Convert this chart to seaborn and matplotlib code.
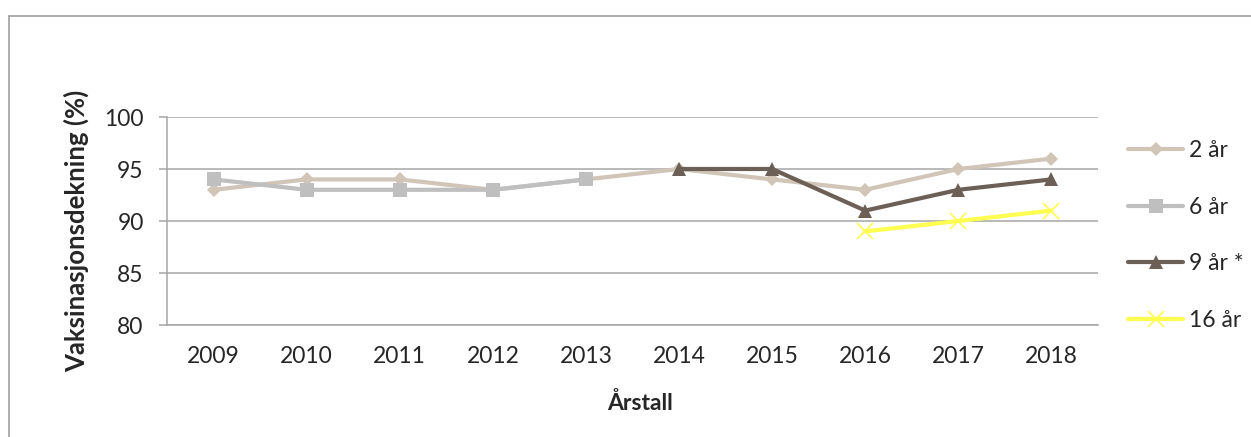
import numpy as np
import pandas as pd
import matplotlib
matplotlib.use("Agg")
import matplotlib.pyplot as plt
from matplotlib.lines import Line2D
import seaborn as sns

years = [2009, 2010, 2011, 2012, 2013, 2014, 2015, 2016, 2017, 2018]
age_2 = [93, 94, 94, 93, 94, 95, 94, 93, 95, 96]
age_6 = [94, 93, 93, 93, 94, np.nan, np.nan, np.nan, np.nan, np.nan]
age_9 = [np.nan, np.nan, np.nan, np.nan, np.nan, 95, 95, 91, 93, 94]
age_16 = [np.nan, np.nan, np.nan, np.nan, np.nan, np.nan, np.nan, 89, 90, 91]
labels = ["2 år", "6 år", "9 år *", "16 år"]
yticks = [80, 85, 90, 95, 100]
ylabel = "Vaksinasjonsdekning (%)"
xlabel = "Årstall"

series = [age_2, age_6, age_9, age_16]
colors = ["#D0C5B7", "#BFBFBF", "#6C5F56", "#FFFF50"]
markers = ["D", "s", "^", "x"]
msizes = [7, 9.5, 9.5, 11]

sns.set_style("white")
plt.rcParams["font.family"] = ["Lato", "DejaVu Sans"]

W, H = 1251, 437
fig = plt.figure(figsize=(W / 100, H / 100), dpi=100)
L, R, T, B = 167, 1098, 117, 325
ax = fig.add_axes([L / W, 1 - B / H, (R - L) / W, (B - T) / H])

grid_c = "#A5A5A5"
for v in yticks:
    ax.axhline(v, color=grid_c, lw=1.1, zorder=0)

for lab, vals, c, m, ms in zip(labels, series, colors, markers, msizes):
    df = pd.DataFrame({"År": years, "Dekning": vals}).dropna()
    sns.lineplot(data=df, x="År", y="Dekning", ax=ax, color=c, lw=3,
                 marker=m, markersize=ms, markeredgecolor=c,
                 markeredgewidth=(1.2 if m == "x" else 0),
                 estimator=None, label=lab, legend=False)

ax.set_xlim(years[0] - 0.5, years[-1] + 0.5)
ax.set_ylim(yticks[0], yticks[-1])
ax.set_yticks(yticks)
ax.set_xticks(years)
ax.set_xticklabels([str(y) for y in years])
ax.set_xticks(np.arange(years[0] - 0.5, years[-1] + 1, 1), minor=True)
ax.tick_params(axis="x", which="major", length=0, pad=15, labelsize=16.5)
ax.tick_params(axis="x", which="minor", length=5.8, width=1.1, color=grid_c, direction="out")
ax.tick_params(axis="y", which="major", length=5.8, width=1.1, color=grid_c,
               direction="out", pad=11, labelsize=16.5, left=True)
ax.set_xlabel("")
ax.set_ylabel("")
for s in ["top", "right"]:
    ax.spines[s].set_visible(False)
for s in ["left", "bottom"]:
    ax.spines[s].set_color(grid_c)
    ax.spines[s].set_linewidth(1.1)
ax.grid(False)

fig.text(76 / W, 1 - 231 / H, ylabel, rotation=90, ha="center", va="center",
         fontsize=18.5, fontweight="bold")
fig.text(640 / W, 1 - 403 / H, xlabel, ha="center", va="center",
         fontsize=16.5, fontweight="bold")

ax.legend(loc="upper left", bbox_to_anchor=(1128 / W, 1 - 140 / H),
          bbox_transform=fig.transFigure, frameon=False, borderpad=0,
          borderaxespad=0, handlelength=2.4, handletextpad=0.25,
          labelspacing=1.55, fontsize=16.5)

bx, by = 9 / W, 1 - 16 / H
fig.add_artist(Line2D([bx, bx], [0, by], transform=fig.transFigure, color="#A0A0A0", lw=1.2))
fig.add_artist(Line2D([bx, 1], [by, by], transform=fig.transFigure, color="#A0A0A0", lw=1.2))

fig.savefig("out.png", dpi=100)
